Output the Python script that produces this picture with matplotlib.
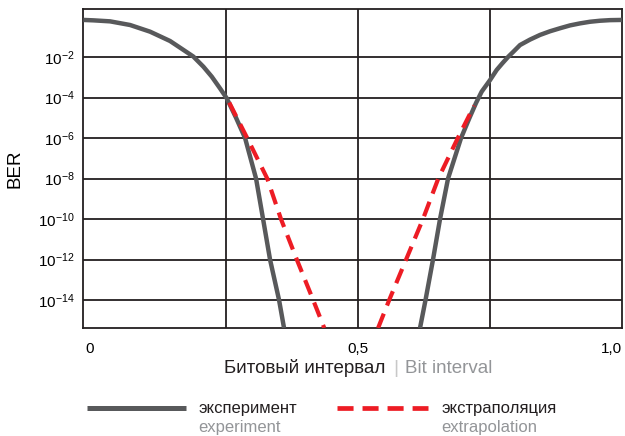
import matplotlib
matplotlib.use("Agg")
import matplotlib.pyplot as plt
from matplotlib.lines import Line2D
import numpy as np

plt.rcParams['font.family'] = ['Liberation Sans', 'DejaVu Sans']
plt.rcParams['mathtext.fontset'] = 'custom'
plt.rcParams['mathtext.rm'] = 'Liberation Sans'
plt.rcParams['mathtext.it'] = 'Liberation Sans'

# experiment, left edge of the eye (x, log10 BER)
exp_left_x = [-0.0202, -0.0013, 0.0303, 0.0682, 0.1061, 0.1439, 0.1692, 0.1881, 0.2071,
              0.2229, 0.2386, 0.2513, 0.2689, 0.2860, 0.3068, 0.3201, 0.3333, 0.3504, 0.3598]
exp_left_log = [-0.17, -0.19, -0.24, -0.42, -0.75, -1.21, -1.65, -1.98, -2.48,
                -2.97, -3.55, -4.04, -5.0, -6.0, -8.0, -10.0, -12.0, -14.0, -15.38]

# experiment, right edge of the eye
exp_right_x = [0.6174, 0.6278, 0.6420, 0.6553, 0.6705, 0.6951, 0.7112, 0.7235, 0.7342,
               0.7500, 0.7626, 0.7734, 0.7848, 0.7942, 0.8068, 0.8258, 0.8447, 0.8636,
               0.8826, 0.9015, 0.9205, 0.9394, 0.9583, 0.9773, 1.0]
exp_right_log = [-15.38, -14.0, -12.0, -10.0, -8.0, -6.0, -5.0, -4.27, -3.71,
                 -3.14, -2.64, -2.31, -1.98, -1.74, -1.41, -1.14, -0.91, -0.73,
                 -0.58, -0.44, -0.34, -0.26, -0.21, -0.18, -0.17]

# extrapolation
ext_left_x = [0.256, 0.290, 0.328, 0.354, 0.384, 0.415, 0.436]
ext_left_log = [-4.25, -6.0, -8.0, -10.0, -12.0, -14.0, -15.38]
ext_right_x = [0.538, 0.559, 0.591, 0.623, 0.652, 0.689, 0.720]
ext_right_log = [-15.38, -14.0, -12.0, -10.0, -8.0, -6.0, -4.4]

ytick_exp = [-2, -4, -6, -8, -10, -12, -14]
xgrid = [0.25, 0.5, 0.75]
xticks = [0, 0.5, 1.0]
xtick_labels = ['0', '0,5', '1,0']

gray = '#58595b'
red = '#ed1c24'
dark = '#231f20'
light = '#939598'

fig = plt.figure(figsize=(6.25, 4.36), dpi=100)
ax = fig.add_axes([83 / 625, 1 - 328 / 436, 539 / 625, 319 / 436])

def pw(v):
    return 10.0 ** np.array(v)

ax.plot(exp_left_x, pw(exp_left_log), color=gray, lw=3.2, solid_capstyle='butt',
        solid_joinstyle='round', zorder=3)
ax.plot(exp_right_x, pw(exp_right_log), color=gray, lw=3.2, solid_capstyle='butt',
        solid_joinstyle='round', zorder=3)
ax.plot(ext_left_x, pw(ext_left_log), color=red, lw=3, dashes=(3.7, 2.1), zorder=4)
ax.plot(ext_right_x, pw(ext_right_log), color=red, lw=3, dashes=(3.7, 2.1), zorder=4)

ax.set_yscale('log')
ax.set_xlim(-0.021, 1.0)
ax.set_ylim(10 ** -15.38, 10 ** 0.37)

for e in ytick_exp:
    ax.axhline(10.0 ** e, color=dark, lw=1.3, zorder=1)
for g in xgrid:
    ax.axvline(g, color=dark, lw=1.3, zorder=1)

ax.set_yticks([10.0 ** e for e in ytick_exp])
ax.set_yticklabels([r'$10^{%d}$' % e for e in ytick_exp], fontsize=11)
ax.yaxis.set_minor_locator(matplotlib.ticker.NullLocator())
ax.set_xticks(xticks)
lbls = ax.set_xticklabels(xtick_labels, fontsize=11)
lbls[0].set_ha('right')
lbls[2].set_ha('right')
ax.tick_params(length=0, pad=10)
ax.tick_params(axis='y', pad=6)
for s in ax.spines.values():
    s.set_color(dark)
    s.set_linewidth(1.3)

fig.text(15 / 625, 1 - 169 / 436, 'BER', rotation=90, ha='center', va='center', fontsize=13.5)

# x label: Russian part, separator, English part
fig.text(385 / 625, 1 - 368 / 436, 'Битовый интервал', ha='right', va='center',
         fontsize=13.5, color=dark)
fig.text(396 / 625, 1 - 368 / 436, '|', ha='center', va='center', fontsize=14, color='#c8c8c8')
fig.text(405 / 625, 1 - 368 / 436, 'Bit interval', ha='left', va='center',
         fontsize=13.5, color=light)

# legend
fig.add_artist(Line2D([87 / 625, 186 / 625], [1 - 408 / 436] * 2, color=gray, lw=3.6,
                      solid_capstyle='butt'))
fig.text(198 / 625, 1 - 408 / 436, 'эксперимент', ha='left', va='center', fontsize=12, color=dark)
fig.text(198 / 625, 1 - 427 / 436, 'experiment', ha='left', va='center', fontsize=12, color=light)
fig.add_artist(Line2D([337 / 625, 428 / 625], [1 - 408 / 436] * 2, color=red, lw=3.4,
                      dashes=(3.4, 1.9)))
fig.text(441 / 625, 1 - 408 / 436, 'экстраполяция', ha='left', va='center', fontsize=12, color=dark)
fig.text(441 / 625, 1 - 427 / 436, 'extrapolation', ha='left', va='center', fontsize=12, color=light)

fig.savefig('out.png', dpi=100)
